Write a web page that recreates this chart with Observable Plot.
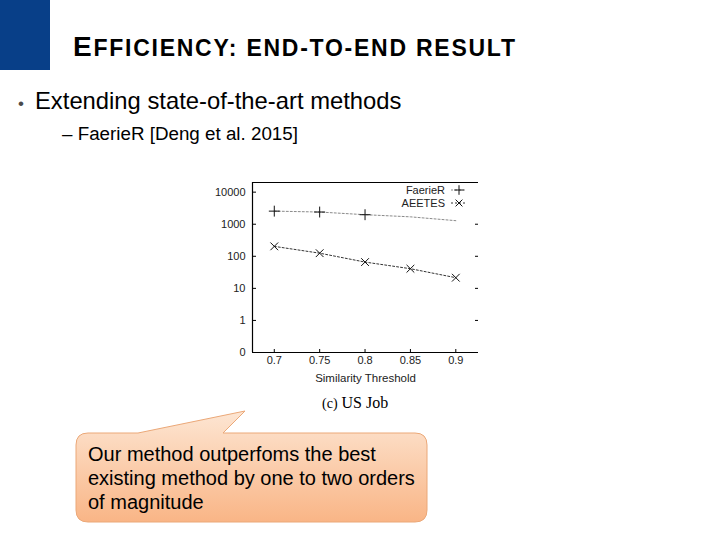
<!DOCTYPE html>
<html>
<head>
<meta charset="utf-8">
<script src="https://cdn.jsdelivr.net/npm/d3@7"></script>
<script src="https://cdn.jsdelivr.net/npm/@observablehq/plot@0.6"></script>
<style>
  html, body { margin: 0; padding: 0; background: #fff; }
  #slide { position: relative; width: 720px; height: 540px; overflow: hidden; font-family: "Liberation Sans", Arial, sans-serif; }
  #deco { position: absolute; left: 0; top: 0; }
  #chart { position: absolute; left: 200px; top: 175px; }
  #legend { position: absolute; left: 380px; top: 183px; }
</style>
</head>
<body>
<div id="slide">
  <svg id="deco" width="720" height="540" xmlns="http://www.w3.org/2000/svg">
    <defs>
      <linearGradient id="calloutFill" x1="0" y1="0" x2="0" y2="1">
        <stop offset="0" stop-color="#fde6d3"/>
        <stop offset="1" stop-color="#f9b586"/>
      </linearGradient>
    </defs>
    <rect x="0" y="0" width="50" height="70" fill="#083f88"/>
    <text x="73" y="56" textLength="442" lengthAdjust="spacing" font-family="Liberation Sans, Arial, sans-serif" font-weight="bold" fill="#000"><tspan font-size="28">E</tspan><tspan font-size="23">FFICIENCY: END-TO-END RESULT</tspan></text>
    <text x="18" y="109" font-family="Liberation Sans, Arial, sans-serif" fill="#4a4a4a" font-size="17">•</text>
    <text x="35" y="109" font-family="Liberation Sans, Arial, sans-serif" font-size="23.8" fill="#000">Extending state-of-the-art methods</text>
    <text x="62" y="140" font-family="Liberation Sans, Arial, sans-serif" font-size="18.8" fill="#000">– FaerieR [Deng et al. 2015]</text>
    <text x="322" y="408" font-family="Liberation Serif, 'Times New Roman', serif" font-size="16" fill="#000"><tspan font-size="14">(c)</tspan>  US Job</text>
    <path d="M 88 433 L 138 433 L 245 411 L 223 433 L 415 433 Q 427 433 427 445 L 427 510 Q 427 522 415 522 L 88 522 Q 76 522 76 510 L 76 445 Q 76 433 88 433 Z"
          fill="url(#calloutFill)" stroke="#eba878" stroke-width="1"/>
    <text font-family="Liberation Sans, Arial, sans-serif" font-size="20" fill="#000">
      <tspan x="88" y="461">Our method outperfoms the best</tspan>
      <tspan x="88" y="485">existing method by one to two orders</tspan>
      <tspan x="88" y="509">of magnitude</tspan>
    </text>
  </svg>
  <div id="chart"></div>
  <svg id="legend" width="100" height="30" xmlns="http://www.w3.org/2000/svg"></svg>
</div>
<script>
// ---- data ----
const thresholds = [0.7, 0.75, 0.8, 0.85, 0.9];
const faerieR = [2560, 2400, 1980, 1700, 1290];
const aeetes = [204, 125, 66, 41, 21.5];
const seriesNames = ["FaerieR", "AEETES"];
const yTickValues = [0.1, 1, 10, 100, 1000, 10000];
const yTickLabels = ["0", "1", "10", "100", "1000", "10000"];
const xTickValues = [0.7, 0.75, 0.8, 0.85, 0.9];
const xTickLabels = ["0.7", "0.75", "0.8", "0.85", "0.9"];
const faerieMarkedCount = 3;

const faerieRows = thresholds.map((t, i) => ({t, v: faerieR[i], i}));
const aeetesRows = thresholds.map((t, i) => ({t, v: aeetes[i], i}));

const W = 290, H = 215;
const mL = 52, mR = 12, mT = 7, mB = 38;
const innerW = W - mL - mR;
const innerH = H - mT - mB;

const chart = Plot.plot({
  width: W,
  height: H,
  marginLeft: mL,
  marginRight: mR,
  marginTop: mT,
  marginBottom: mB,
  style: {fontFamily: "'Liberation Sans', Arial, sans-serif", fontSize: "11px", color: "#222", background: "transparent"},
  x: {domain: [0.676, 0.925]},
  y: {type: "log", domain: [0.1, 20000]},
  marks: [
    Plot.axisY({ticks: yTickValues, tickFormat: (d) => yTickLabels[yTickValues.indexOf(d)], tickSize: 0, tickPadding: 7, label: null, fontSize: 11}),
    Plot.axisX({ticks: xTickValues, tickFormat: (d) => xTickLabels[xTickValues.indexOf(d)], tickSize: 0, tickPadding: 4, label: null, fontSize: 11}),
    // inward ticks
    Plot.tickY(yTickValues, {y: d => d, stroke: "#000", insetRight: innerW - 4}),
    Plot.tickY(yTickValues.slice(1, 5), {y: d => d, stroke: "#000", insetLeft: innerW - 3}),
    Plot.tickX(xTickValues, {x: d => d, stroke: "#000", insetTop: innerH - 3}),
    // frame (left, top, bottom)
    Plot.ruleX([0.676], {stroke: "#000", strokeWidth: 1.2}),
    Plot.ruleY([0.1], {stroke: "#000", strokeWidth: 1.2}),
    Plot.ruleY([20000], {stroke: "#000", strokeWidth: 1.2}),
    // series
    Plot.line(faerieRows, {x: "t", y: "v", stroke: "#8a8a8a", strokeWidth: 1, strokeDasharray: "2,2"}),
    Plot.dot(faerieRows.filter(d => d.i < faerieMarkedCount), {x: "t", y: "v", symbol: "plus", r: 3.6, stroke: "#111", strokeWidth: 1}),
    Plot.line(aeetesRows, {x: "t", y: "v", stroke: "#333", strokeWidth: 1, strokeDasharray: "2,2"}),
    Plot.dot(aeetesRows, {x: "t", y: "v", symbol: "times", r: 3.6, stroke: "#111", strokeWidth: 1}),
    Plot.text(["Similarity Threshold"], {frameAnchor: "bottom", dy: 26, text: d => d, fontSize: 11.5, fill: "#222", lineAnchor: "middle"})
  ]
});
document.getElementById("chart").appendChild(chart);

// legend (top-right, inside the frame)
const lg = d3.select("#legend");
const legendStyles = [
  {stroke: "#8a8a8a", symbol: d3.symbolPlus},
  {stroke: "#333", symbol: d3.symbolTimes}
];
seriesNames.forEach((name, i) => {
  const y = 7 + i * 13;
  lg.append("text").attr("x", 65).attr("y", y).attr("dy", "0.35em")
    .attr("text-anchor", "end")
    .attr("font-family", "'Liberation Sans', Arial, sans-serif")
    .attr("font-size", 11).attr("fill", "#222").text(name);
  lg.append("line").attr("x1", 71).attr("x2", 87).attr("y1", y).attr("y2", y)
    .attr("stroke", legendStyles[i].stroke).attr("stroke-dasharray", "2,2");
  lg.append("path").attr("transform", `translate(79,${y})`)
    .attr("d", d3.symbol(legendStyles[i].symbol, 32)())
    .attr("fill", "none").attr("stroke", "#111");
});
</script>
</body>
</html>
